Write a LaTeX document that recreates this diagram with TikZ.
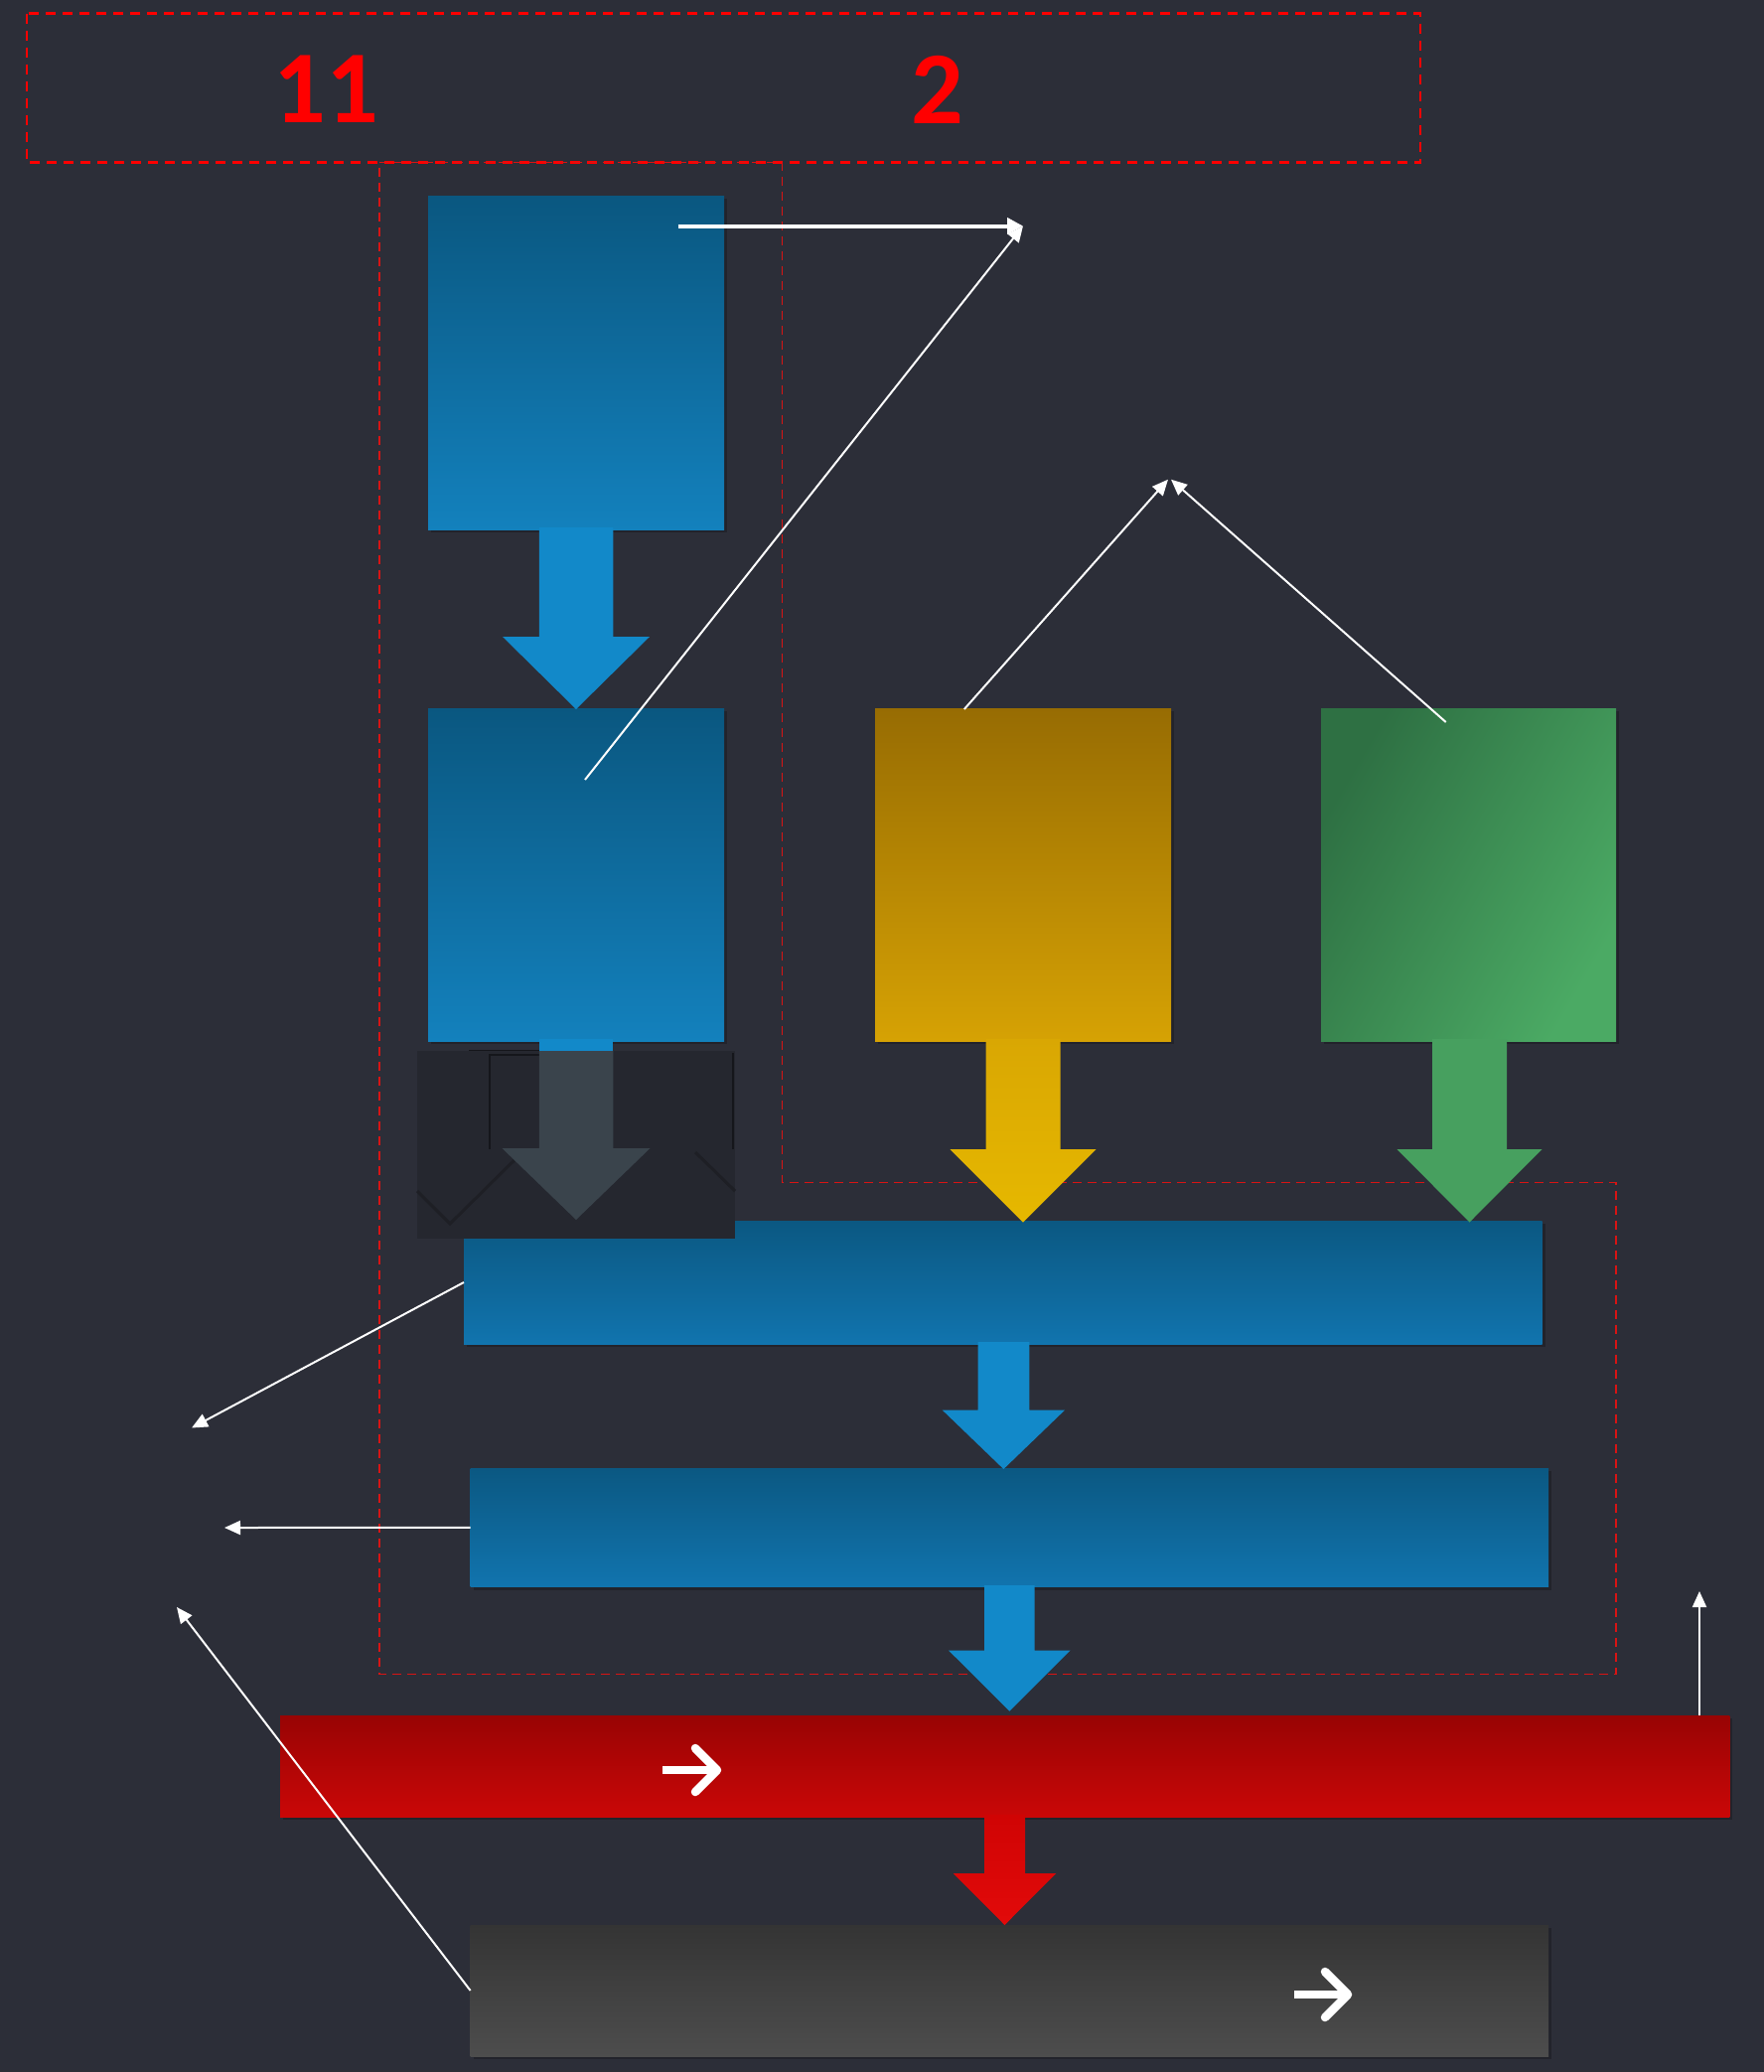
\documentclass[tikz,border=0pt]{standalone}
\usepackage{fontspec}
\newfontfamily\numfont{Carlito}
\usetikzlibrary{arrows.meta,shadows}
\definecolor{bg}{HTML}{2C2E38}
\definecolor{bluetop}{HTML}{0A5780}
\definecolor{bluebot}{HTML}{1381BD}
\definecolor{bluearr}{HTML}{1289C9}
\definecolor{bartop}{HTML}{0B5882}
\definecolor{barbot}{HTML}{1174AE}
\definecolor{yeltop}{HTML}{976C03}
\definecolor{yelbot}{HTML}{D6A204}
\definecolor{yelarrA}{HTML}{D9A703}
\definecolor{yelarrB}{HTML}{E6B800}
\definecolor{grntop}{HTML}{2E7043}
\definecolor{grnbot}{HTML}{4BAA64}
\definecolor{grnarr}{HTML}{47A05F}
\definecolor{redtop}{HTML}{980404}
\definecolor{redbot}{HTML}{CA0707}
\definecolor{redarrA}{HTML}{D00404}
\definecolor{redarrB}{HTML}{E20A0A}
\definecolor{graytop}{HTML}{343434}
\definecolor{graybot}{HTML}{4D4D4D}
\definecolor{ghost}{HTML}{3A444C}
\definecolor{ghostbg}{HTML}{25272F}
\definecolor{ghostline}{HTML}{15161B}
\definecolor{ghostsoft}{HTML}{1E1F25}
\definecolor{regionred}{HTML}{D81414}
\newcommand\blockarr[7]{\path[#1] (#2-#4,#3) -- (#2+#4,#3) -- (#2+#4,#5) -- (#2+#6,#5) -- (#2,#7) -- (#2-#6,#5) -- (#2-#4,#5) -- cycle;}
\tikzset{
  box/.style={rectangle, draw=none, inner sep=0pt, outer sep=0pt,
    drop shadow={shadow xshift=3pt, shadow yshift=-3pt, opacity=0.22, fill=black}},
  bluebox/.style={box, top color=bluetop, bottom color=bluebot},
  barbox/.style={box, top color=bartop, bottom color=barbot},
  yelbox/.style={box, top color=yeltop, bottom color=yelbot},
  grnbox/.style={box, top color=grntop, bottom color=grnbot, shading angle=60},
  redbox/.style={box, top color=redtop, bottom color=redbot},
  graybox/.style={box, top color=graytop, bottom color=graybot},
  conn/.style={draw=white, line width=2pt, -{Triangle[width=14pt,length=16pt]}},
  thickconn/.style={draw=white, line width=4pt, -{Triangle[width=16pt,length=16pt]}},
  icon/.style={draw=white, line width=8.5pt, line cap=round, line join=round},
  iconbar/.style={draw=white, line width=8.5pt, line cap=butt},
  numstyle/.style={text=red, inner sep=0pt, font=\numfont\bfseries\fontsize{104pt}{104pt}\selectfont},
  topframe/.style={draw=red, line width=2.5pt, dash pattern=on 10pt off 7pt},
  region/.style={draw=regionred, line width=1.6pt, dash pattern=on 9pt off 6pt},
}
\begin{document}
\begin{tikzpicture}[x=1pt,y=-1pt]
\useasboundingbox (0,0) rectangle (1776,2086);
\fill[bg] (0,0) rectangle (1776,2086);

% dashed frames
\draw[topframe] (27,13.5) rectangle (1430,163.5);
\draw[region] (382,163.5) -- (787.5,163.5) -- (787.5,1190.5) -- (1627,1190.5) -- (1627,1685.5) -- (382,1685.5) -- cycle;

% labels
\node[numstyle] (n11) at (328,90) {11};
\node[numstyle] (n2) at (944,90) {2};

% boxes
\node[bluebox, minimum width=298pt, minimum height=336pt] (b1) at (580,365) {};
\node[bluebox, minimum width=298pt, minimum height=335pt] (b2) at (580,880.5) {};
\node[yelbox, minimum width=298pt, minimum height=335pt] (yb) at (1030,880.5) {};
\node[grnbox, minimum width=297pt, minimum height=335pt] (gb) at (1478.5,880.5) {};
\node[barbox, minimum width=1085.5pt, minimum height=124pt] (bar1) at (1009.75,1291) {};
\node[barbox, minimum width=1085.5pt, minimum height=119.7pt] (bar2) at (1016.3,1537.85) {};
\node[redbox, minimum width=1459.4pt, minimum height=102pt] (rbar) at (1011.7,1778) {};
\node[graybox, minimum width=1085.4pt, minimum height=132pt] (gbar) at (1016.3,2004) {};

% block arrows
\blockarr{fill=bluearr}{580}{531}{37.25}{641}{74}{714}
\fill[bluearr] (542.75,1046) rectangle (617.25,1060);
% ghost region under box 2
\fill[ghostbg] (420,1058) rectangle (740,1247);
\draw[ghostline, line width=1.5pt] (472,1057.5) -- (543,1057.5);
\draw[ghostline, line width=1.5pt] (493,1157) -- (493,1062) -- (600,1062);
\draw[ghostline, line width=2pt] (738,1060) -- (738,1157);
\draw[ghostsoft, line width=3pt] (420,1199) -- (453,1232) -- (526,1160);
\draw[ghostsoft, line width=3pt] (700,1160) -- (740,1199);
\blockarr{fill=ghost}{580}{1058}{37.25}{1156}{74.5}{1228}
\blockarr{top color=yelarrA, bottom color=yelarrB}{1030}{1046}{37.5}{1157}{73.5}{1230.5}
\blockarr{fill=grnarr}{1479.5}{1046}{37.5}{1157}{73}{1230.5}
\blockarr{fill=bluearr}{1010.4}{1351}{25.9}{1419.5}{61.75}{1479}
\blockarr{fill=bluearr}{1016.3}{1596}{25.3}{1661.5}{61.3}{1722.7}
\blockarr{top color=redarrA, bottom color=redarrB}{1011.5}{1827}{20.5}{1886}{51.75}{1938}

% icons
\draw[iconbar] (667,1782) -- (718,1782);
\draw[icon] (700,1760) -- (722,1782) -- (700,1804);
\draw[iconbar] (1303,2008) -- (1354,2008);
\draw[icon] (1334,1985) -- (1357,2008) -- (1334,2031);

% connector coordinates
\coordinate (s1) at (682.5,227.5);
\coordinate (t1) at (1030,227.5);
\coordinate (s2) at (589,785);
\coordinate (s3) at (970.8,714);
\coordinate (t3) at (1176,482.7);
\coordinate (s4) at (1455.7,727);
\coordinate (t4) at (1179,482.7);
\coordinate (t5) at (193,1437.5);
\coordinate (t6) at (226,1538);
\coordinate (t7) at (178,1618);
\coordinate (s8) at (1711,1727);
\coordinate (t8) at (1711,1602);

% connectors
\draw[thickconn] (s1) -- (t1);
\draw[conn] (s2) -- (t1);
\draw[conn] (s3) -- (t3);
\draw[conn] (s4) -- (t4);
\draw[conn] (bar1.west) -- (t5);
\draw[conn] (bar2.west) -- (t6);
\draw[conn] (gbar.west) -- (t7);
\draw[conn] (s8) -- (t8);
\end{tikzpicture}
\end{document}
